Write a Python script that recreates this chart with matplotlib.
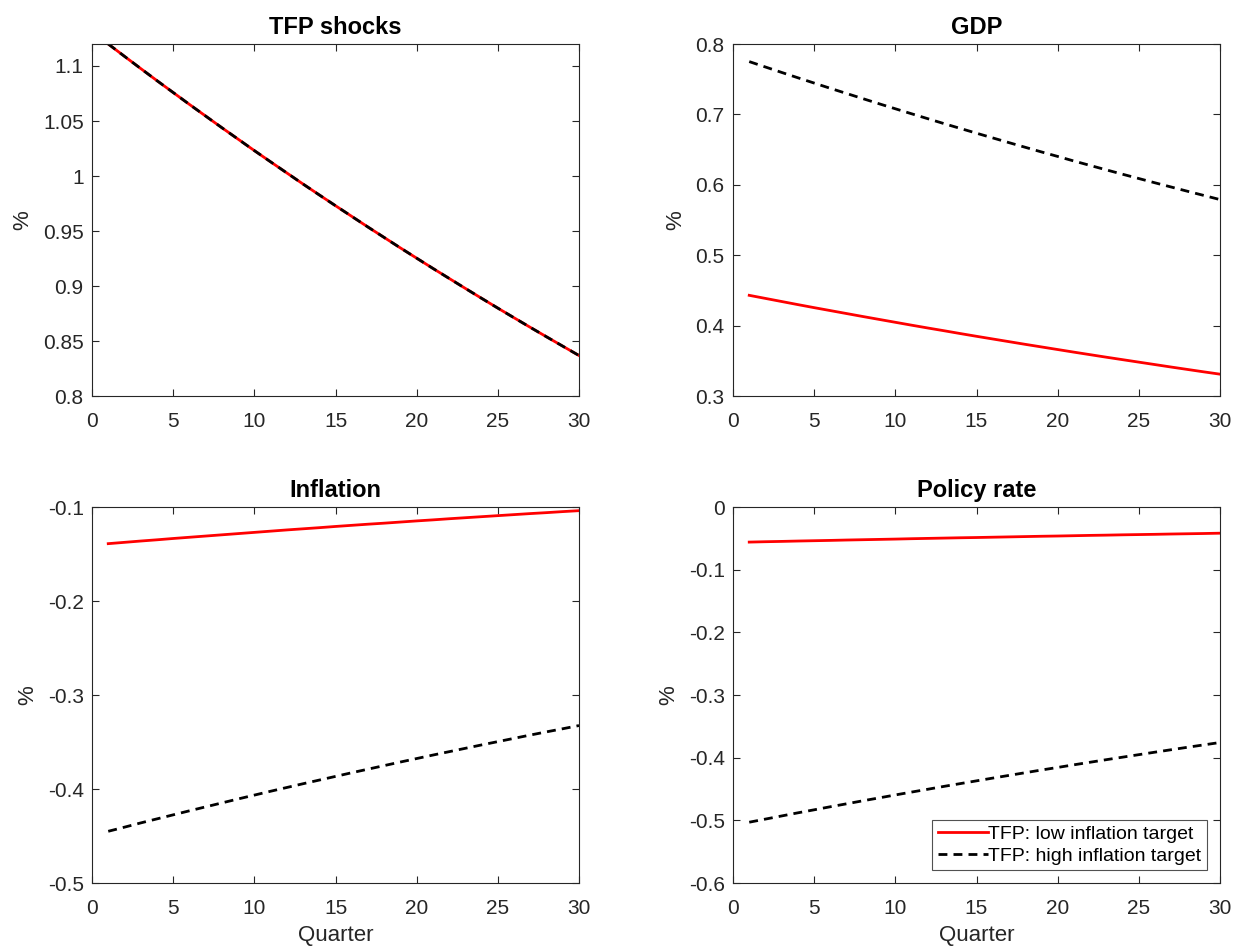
import matplotlib
matplotlib.use("Agg")
import matplotlib.pyplot as plt

plt.rcParams['font.family'] = ['Liberation Sans', 'DejaVu Sans']

quarters = list(range(1, 31))

tfp_low = [1.1200, 1.1088, 1.0977, 1.0867, 1.0759, 1.0651, 1.0545, 1.0439, 1.0335, 1.0231,
           1.0129, 1.0028, 0.9927, 0.9828, 0.9730, 0.9633, 0.9536, 0.9441, 0.9346, 0.9253,
           0.9160, 0.9069, 0.8978, 0.8888, 0.8799, 0.8711, 0.8624, 0.8538, 0.8453, 0.8368]
tfp_high = list(tfp_low)

gdp_low = [0.4430, 0.4386, 0.4342, 0.4298, 0.4255, 0.4213, 0.4171, 0.4129, 0.4088, 0.4047,
           0.4006, 0.3966, 0.3927, 0.3887, 0.3848, 0.3810, 0.3772, 0.3734, 0.3697, 0.3660,
           0.3623, 0.3587, 0.3551, 0.3516, 0.3481, 0.3446, 0.3411, 0.3377, 0.3343, 0.3310]
gdp_high = [0.7750, 0.7673, 0.7596, 0.7520, 0.7445, 0.7370, 0.7297, 0.7224, 0.7151, 0.7080,
            0.7009, 0.6939, 0.6869, 0.6801, 0.6733, 0.6666, 0.6599, 0.6533, 0.6467, 0.6403,
            0.6338, 0.6275, 0.6212, 0.6150, 0.6089, 0.6028, 0.5968, 0.5908, 0.5849, 0.5790]

infl_low = [-0.1390, -0.1376, -0.1362, -0.1349, -0.1335, -0.1322, -0.1309, -0.1296, -0.1283, -0.1270,
            -0.1257, -0.1244, -0.1232, -0.1220, -0.1207, -0.1195, -0.1183, -0.1172, -0.1160, -0.1148,
            -0.1137, -0.1125, -0.1114, -0.1103, -0.1092, -0.1081, -0.1070, -0.1060, -0.1049, -0.1039]
infl_high = [-0.4450, -0.4406, -0.4361, -0.4318, -0.4275, -0.4232, -0.4190, -0.4148, -0.4106, -0.4065,
             -0.4024, -0.3984, -0.3944, -0.3905, -0.3866, -0.3827, -0.3789, -0.3751, -0.3713, -0.3676,
             -0.3639, -0.3603, -0.3567, -0.3531, -0.3496, -0.3461, -0.3426, -0.3392, -0.3359, -0.3325]

rate_low = [-0.0560, -0.0554, -0.0549, -0.0543, -0.0538, -0.0533, -0.0527, -0.0522, -0.0517, -0.0512,
            -0.0506, -0.0501, -0.0496, -0.0491, -0.0487, -0.0482, -0.0477, -0.0472, -0.0467, -0.0463,
            -0.0458, -0.0453, -0.0449, -0.0444, -0.0440, -0.0436, -0.0431, -0.0427, -0.0423, -0.0418]
rate_high = [-0.5030, -0.4980, -0.4930, -0.4880, -0.4832, -0.4783, -0.4736, -0.4688, -0.4642, -0.4595,
             -0.4549, -0.4504, -0.4458, -0.4414, -0.4370, -0.4326, -0.4283, -0.4240, -0.4197, -0.4156,
             -0.4114, -0.4073, -0.4032, -0.3992, -0.3952, -0.3912, -0.3873, -0.3834, -0.3796, -0.3758]

titles = ["TFP shocks", "GDP", "Inflation", "Policy rate"]
series = [(tfp_low, tfp_high), (gdp_low, gdp_high), (infl_low, infl_high), (rate_low, rate_high)]
ylims = [(0.8, 1.12), (0.3, 0.8), (-0.5, -0.1), (-0.6, 0.0)]
yticks = [[0.8, 0.85, 0.9, 0.95, 1.0, 1.05, 1.1],
          [0.3, 0.4, 0.5, 0.6, 0.7, 0.8],
          [-0.5, -0.4, -0.3, -0.2, -0.1],
          [-0.6, -0.5, -0.4, -0.3, -0.2, -0.1, 0.0]]
xticks = [0, 5, 10, 15, 20, 25, 30]
legend_labels = ["TFP: low inflation target", "TFP: high inflation target"]

W, H = 1236, 947
fig = plt.figure(figsize=(W / 100, H / 100), dpi=100)

# axes boxes in pixel coords: (left, top, right, bottom)
boxes = [(92, 44, 579, 396), (733, 44, 1220, 396),
         (92, 507, 579, 883), (733, 507, 1220, 883)]

axcol = '#262626'

def fmt(v):
    s = ('%.2f' % v).rstrip('0').rstrip('.')
    if s == '-0':
        s = '0'
    return s

for i, (l, t, r, b) in enumerate(boxes):
    ax = fig.add_axes([l / W, 1 - b / H, (r - l) / W, (b - t) / H])
    low, high = series[i]
    ax.plot(quarters, low, color='red', lw=2.0, label=legend_labels[0])
    ax.plot(quarters, high, color='black', lw=2.0, dashes=(3.2, 2.2), label=legend_labels[1])
    ax.set_xlim(0, 30)
    ax.set_ylim(*ylims[i])
    ax.set_xticks(xticks)
    ax.set_yticks(yticks[i])
    ax.set_yticklabels([fmt(v) for v in yticks[i]])
    ax.tick_params(direction='in', top=True, right=True, length=5, width=0.8,
                   labelsize=15, colors=axcol)
    ax.tick_params(axis='x', pad=11.5)
    ax.tick_params(axis='y', pad=6)
    for sp in ax.spines.values():
        sp.set_color(axcol)
        sp.set_linewidth(0.8)
    ax.set_title(titles[i], fontsize=17, fontweight='bold', pad=7)
    ax.set_ylabel('%', fontsize=16, color=axcol, labelpad=7)
    if i >= 2:
        ax.set_xlabel('Quarter', fontsize=16, color=axcol, labelpad=5)
    if i == 3:
        leg = ax.legend(loc='lower right', fontsize=14, frameon=True, fancybox=False,
                        handlelength=2.6, handletextpad=0.0, borderpad=0.3,
                        labelspacing=0.2, borderaxespad=0.65, edgecolor='#262626')
        leg.get_frame().set_linewidth(0.8)

fig.savefig('out.png', dpi=100)
